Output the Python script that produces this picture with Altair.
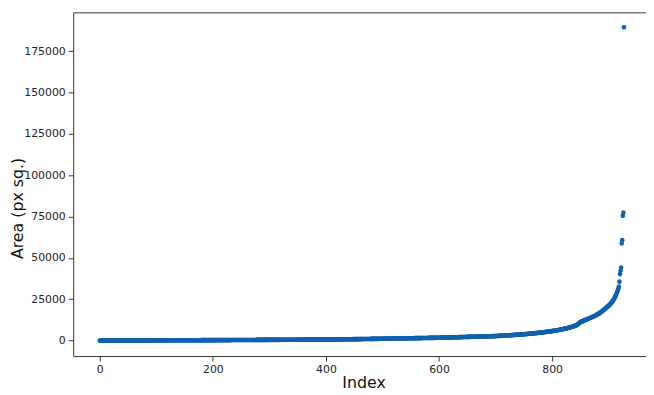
import altair as alt
import pandas as pd

# Sorted areas (px sq.), in index order
area_000_099 = [
    12, 15, 18, 20, 22, 24, 25, 27, 28, 30,
    31, 32, 33, 34, 35, 36, 37, 38, 38, 39,
    40, 41, 42, 42, 43, 44, 45, 45, 46, 47,
    48, 48, 49, 50, 50, 51, 52, 52, 53, 54,
    54, 55, 56, 56, 57, 58, 58, 59, 60, 60,
    61, 62, 62, 63, 64, 64, 65, 66, 66, 67,
    68, 68, 69, 70, 70, 71, 72, 72, 73, 74,
    75, 75, 76, 77, 78, 78, 79, 80, 81, 82,
    82, 83, 84, 85, 86, 86, 87, 88, 89, 90,
    91, 92, 92, 93, 94, 95, 96, 97, 98, 99,
]
area_100_199 = [
    100, 101, 103, 104, 105, 107, 108, 109, 110, 112,
    113, 114, 115, 117, 118, 119, 120, 122, 123, 124,
    125, 126, 128, 129, 130, 131, 133, 134, 135, 136,
    138, 139, 140, 141, 143, 144, 145, 146, 148, 149,
    150, 151, 153, 154, 155, 156, 158, 159, 160, 162,
    163, 164, 165, 167, 168, 169, 171, 172, 173, 175,
    176, 177, 179, 180, 181, 183, 184, 185, 187, 188,
    189, 191, 192, 193, 195, 196, 198, 199, 200, 202,
    203, 205, 206, 207, 209, 210, 212, 213, 215, 216,
    218, 219, 221, 222, 224, 225, 227, 228, 230, 231,
]
area_200_299 = [
    233, 234, 236, 237, 239, 240, 242, 243, 245, 246,
    248, 249, 251, 252, 254, 255, 257, 258, 260, 261,
    263, 264, 266, 267, 269, 270, 272, 273, 275, 276,
    278, 279, 281, 282, 284, 285, 287, 288, 290, 291,
    293, 294, 296, 297, 299, 300, 302, 303, 305, 306,
    308, 310, 311, 313, 314, 316, 318, 319, 321, 322,
    324, 326, 327, 329, 331, 332, 334, 336, 337, 339,
    341, 342, 344, 346, 347, 349, 351, 353, 354, 356,
    358, 360, 361, 363, 365, 367, 368, 370, 372, 374,
    376, 377, 379, 381, 383, 385, 387, 388, 390, 392,
]
area_300_399 = [
    394, 396, 398, 400, 402, 404, 406, 408, 410, 412,
    414, 416, 418, 420, 422, 424, 426, 428, 430, 432,
    434, 436, 438, 440, 442, 445, 447, 449, 451, 453,
    455, 457, 460, 462, 464, 466, 468, 471, 473, 475,
    477, 480, 482, 484, 486, 489, 491, 493, 496, 498,
    500, 503, 505, 507, 510, 512, 515, 517, 520, 522,
    524, 527, 529, 532, 534, 537, 540, 542, 545, 547,
    550, 552, 555, 558, 560, 563, 566, 568, 571, 574,
    576, 579, 582, 585, 587, 590, 593, 596, 599, 602,
    605, 608, 611, 614, 617, 620, 623, 626, 629, 632,
]
area_400_499 = [
    635, 638, 641, 645, 648, 651, 654, 657, 661, 664,
    667, 671, 674, 677, 681, 684, 688, 691, 695, 698,
    702, 705, 709, 712, 716, 720, 723, 727, 731, 734,
    738, 742, 746, 749, 753, 757, 761, 765, 769, 773,
    777, 781, 785, 789, 793, 797, 801, 805, 810, 814,
    818, 822, 827, 831, 835, 840, 844, 849, 853, 858,
    862, 867, 871, 876, 881, 885, 890, 895, 900, 905,
    909, 914, 919, 924, 929, 934, 939, 944, 950, 955,
    960, 965, 970, 976, 981, 987, 992, 997, 1003, 1009,
    1014, 1020, 1026, 1031, 1037, 1043, 1049, 1055, 1061, 1067,
]
area_500_599 = [
    1073, 1079, 1085, 1091, 1097, 1103, 1109, 1115, 1121, 1127,
    1133, 1139, 1145, 1151, 1157, 1163, 1169, 1175, 1181, 1187,
    1193, 1199, 1205, 1211, 1217, 1223, 1229, 1235, 1241, 1247,
    1253, 1259, 1265, 1271, 1277, 1283, 1289, 1295, 1301, 1307,
    1313, 1319, 1325, 1331, 1337, 1343, 1349, 1355, 1361, 1367,
    1373, 1379, 1385, 1391, 1397, 1403, 1409, 1415, 1421, 1427,
    1433, 1439, 1445, 1451, 1457, 1463, 1469, 1475, 1481, 1487,
    1493, 1499, 1505, 1511, 1517, 1523, 1529, 1535, 1541, 1547,
    1553, 1559, 1565, 1571, 1577, 1583, 1589, 1595, 1601, 1607,
    1613, 1619, 1625, 1631, 1637, 1643, 1649, 1655, 1661, 1667,
]
area_600_699 = [
    1680, 1690, 1700, 1710, 1720, 1730, 1740, 1750, 1760, 1770,
    1780, 1790, 1800, 1810, 1820, 1830, 1840, 1850, 1860, 1870,
    1880, 1890, 1900, 1910, 1920, 1930, 1940, 1950, 1960, 1970,
    1980, 1990, 2000, 2010, 2020, 2030, 2040, 2050, 2060, 2070,
    2080, 2090, 2100, 2110, 2120, 2130, 2140, 2150, 2160, 2170,
    2180, 2190, 2200, 2210, 2220, 2230, 2240, 2250, 2260, 2270,
    2280, 2290, 2300, 2310, 2320, 2330, 2340, 2350, 2360, 2370,
    2380, 2390, 2400, 2410, 2420, 2430, 2440, 2450, 2460, 2470,
    2480, 2490, 2500, 2510, 2520, 2530, 2540, 2550, 2560, 2570,
    2580, 2590, 2600, 2610, 2620, 2630, 2640, 2650, 2660, 2670,
]
area_700_799 = [
    2690, 2710, 2725, 2740, 2760, 2780, 2795, 2810, 2830, 2850,
    2870, 2890, 2905, 2920, 2940, 2960, 2985, 3005, 3020, 3040,
    3060, 3080, 3100, 3125, 3150, 3170, 3190, 3215, 3240, 3260,
    3280, 3305, 3330, 3355, 3380, 3400, 3425, 3450, 3475, 3500,
    3525, 3550, 3580, 3605, 3630, 3660, 3690, 3715, 3740, 3770,
    3800, 3830, 3860, 3890, 3920, 3950, 3980, 4010, 4040, 4070,
    4100, 4135, 4170, 4200, 4235, 4270, 4300, 4335, 4370, 4405,
    4440, 4475, 4510, 4545, 4580, 4620, 4660, 4700, 4740, 4780,
    4820, 4860, 4900, 4940, 4980, 5020, 5060, 5100, 5140, 5185,
    5230, 5275, 5320, 5365, 5410, 5455, 5500, 5550, 5600, 5650,
]
area_800_849 = [
    5700, 5750, 5800, 5860, 5920, 5980, 6040, 6100, 6160, 6220,
    6280, 6340, 6400, 6470, 6540, 6610, 6680, 6750, 6820, 6890,
    6960, 7030, 7110, 7190, 7270, 7350, 7430, 7510, 7600, 7690,
    7780, 7870, 7960, 8060, 8160, 8260, 8370, 8480, 8600, 8730,
    8860, 9000, 9150, 9320, 9500, 9700, 9950, 10250, 10600, 10900,
]
area_850_899 = [
    11100, 11250, 11400, 11550, 11700, 11850, 12000, 12150, 12300, 12450,
    12600, 12750, 12900, 13050, 13200, 13350, 13500, 13650, 13800, 13950,
    14100, 14250, 14400, 14550, 14700, 14850, 15000, 15200, 15400, 15600,
    15800, 16000, 16200, 16400, 16600, 16850, 17100, 17350, 17600, 17850,
    18100, 18400, 18700, 19000, 19300, 19600, 19900, 20200, 20500, 20800,
]
area_900_927 = [
    21100, 21400, 21800, 22100, 22500, 22900, 23300, 23800, 24300, 24900,
    25500, 26200, 26900, 27600, 28400, 29300, 30300, 31300, 32600, 35600,
    40200, 42200, 44200, 58700, 60700, 75400, 77400, 189500,
]

x_ticks = [0, 200, 400, 600, 800]
y_ticks = [0, 25000, 50000, 75000, 100000, 125000, 150000, 175000]

areas = (area_000_099 + area_100_199 + area_200_299 + area_300_399 + area_400_499
         + area_500_599 + area_600_699 + area_700_799 + area_800_849
         + area_850_899 + area_900_927)
df = pd.DataFrame({"Index": list(range(len(areas))), "Area": areas})

FONT = "DejaVu Sans"
SPINE = "#333333"
xs = alt.Scale(domain=[-47, 966], nice=False, zero=False)
ys = alt.Scale(domain=[-9400, 198500], nice=False, zero=False)

points = alt.Chart(df).mark_circle(size=22, color="#1160ae", opacity=1).encode(
    x=alt.X("Index:Q", scale=xs, axis=alt.Axis(
        values=x_ticks, format="d", grid=False, tickSize=5, tickColor=SPINE,
        domainColor=SPINE, labelFont=FONT, labelFontSize=11, labelColor="#222222",
        labelPadding=3, title="Index", titleFont=FONT, titleFontSize=16,
        titleFontWeight="normal", titleColor="#111111",
        titleX=294, titleY=27, titleAlign="center", titleBaseline="middle")),
    y=alt.Y("Area:Q", scale=ys, axis=alt.Axis(
        values=y_ticks, format="d", grid=False, tickSize=5, tickColor=SPINE,
        domainColor=SPINE, labelFont=FONT, labelFontSize=11, labelColor="#222222",
        labelPadding=3, title="Area (px sq.)", titleFont=FONT, titleFontSize=16,
        titleFontWeight="normal", titleColor="#111111",
        titleX=-56, titleY=198, titleAlign="center", titleBaseline="middle")),
)

top = alt.Chart(df).mark_circle(opacity=0).encode(
    x=alt.X("Index:Q", scale=xs, axis=alt.Axis(
        orient="top", labels=False, ticks=False, title=None, grid=False,
        domainColor=SPINE)),
)

chart = alt.layer(points, top).resolve_axis(x="independent").properties(
    width=580, height=348,
    autosize=alt.AutoSizeParams(type="none"),
    padding={"left": 66, "top": 2, "right": 0, "bottom": 37},
).configure_view(stroke=None)

chart.save("out.html", embed_options={"renderer": "svg", "actions": False})
